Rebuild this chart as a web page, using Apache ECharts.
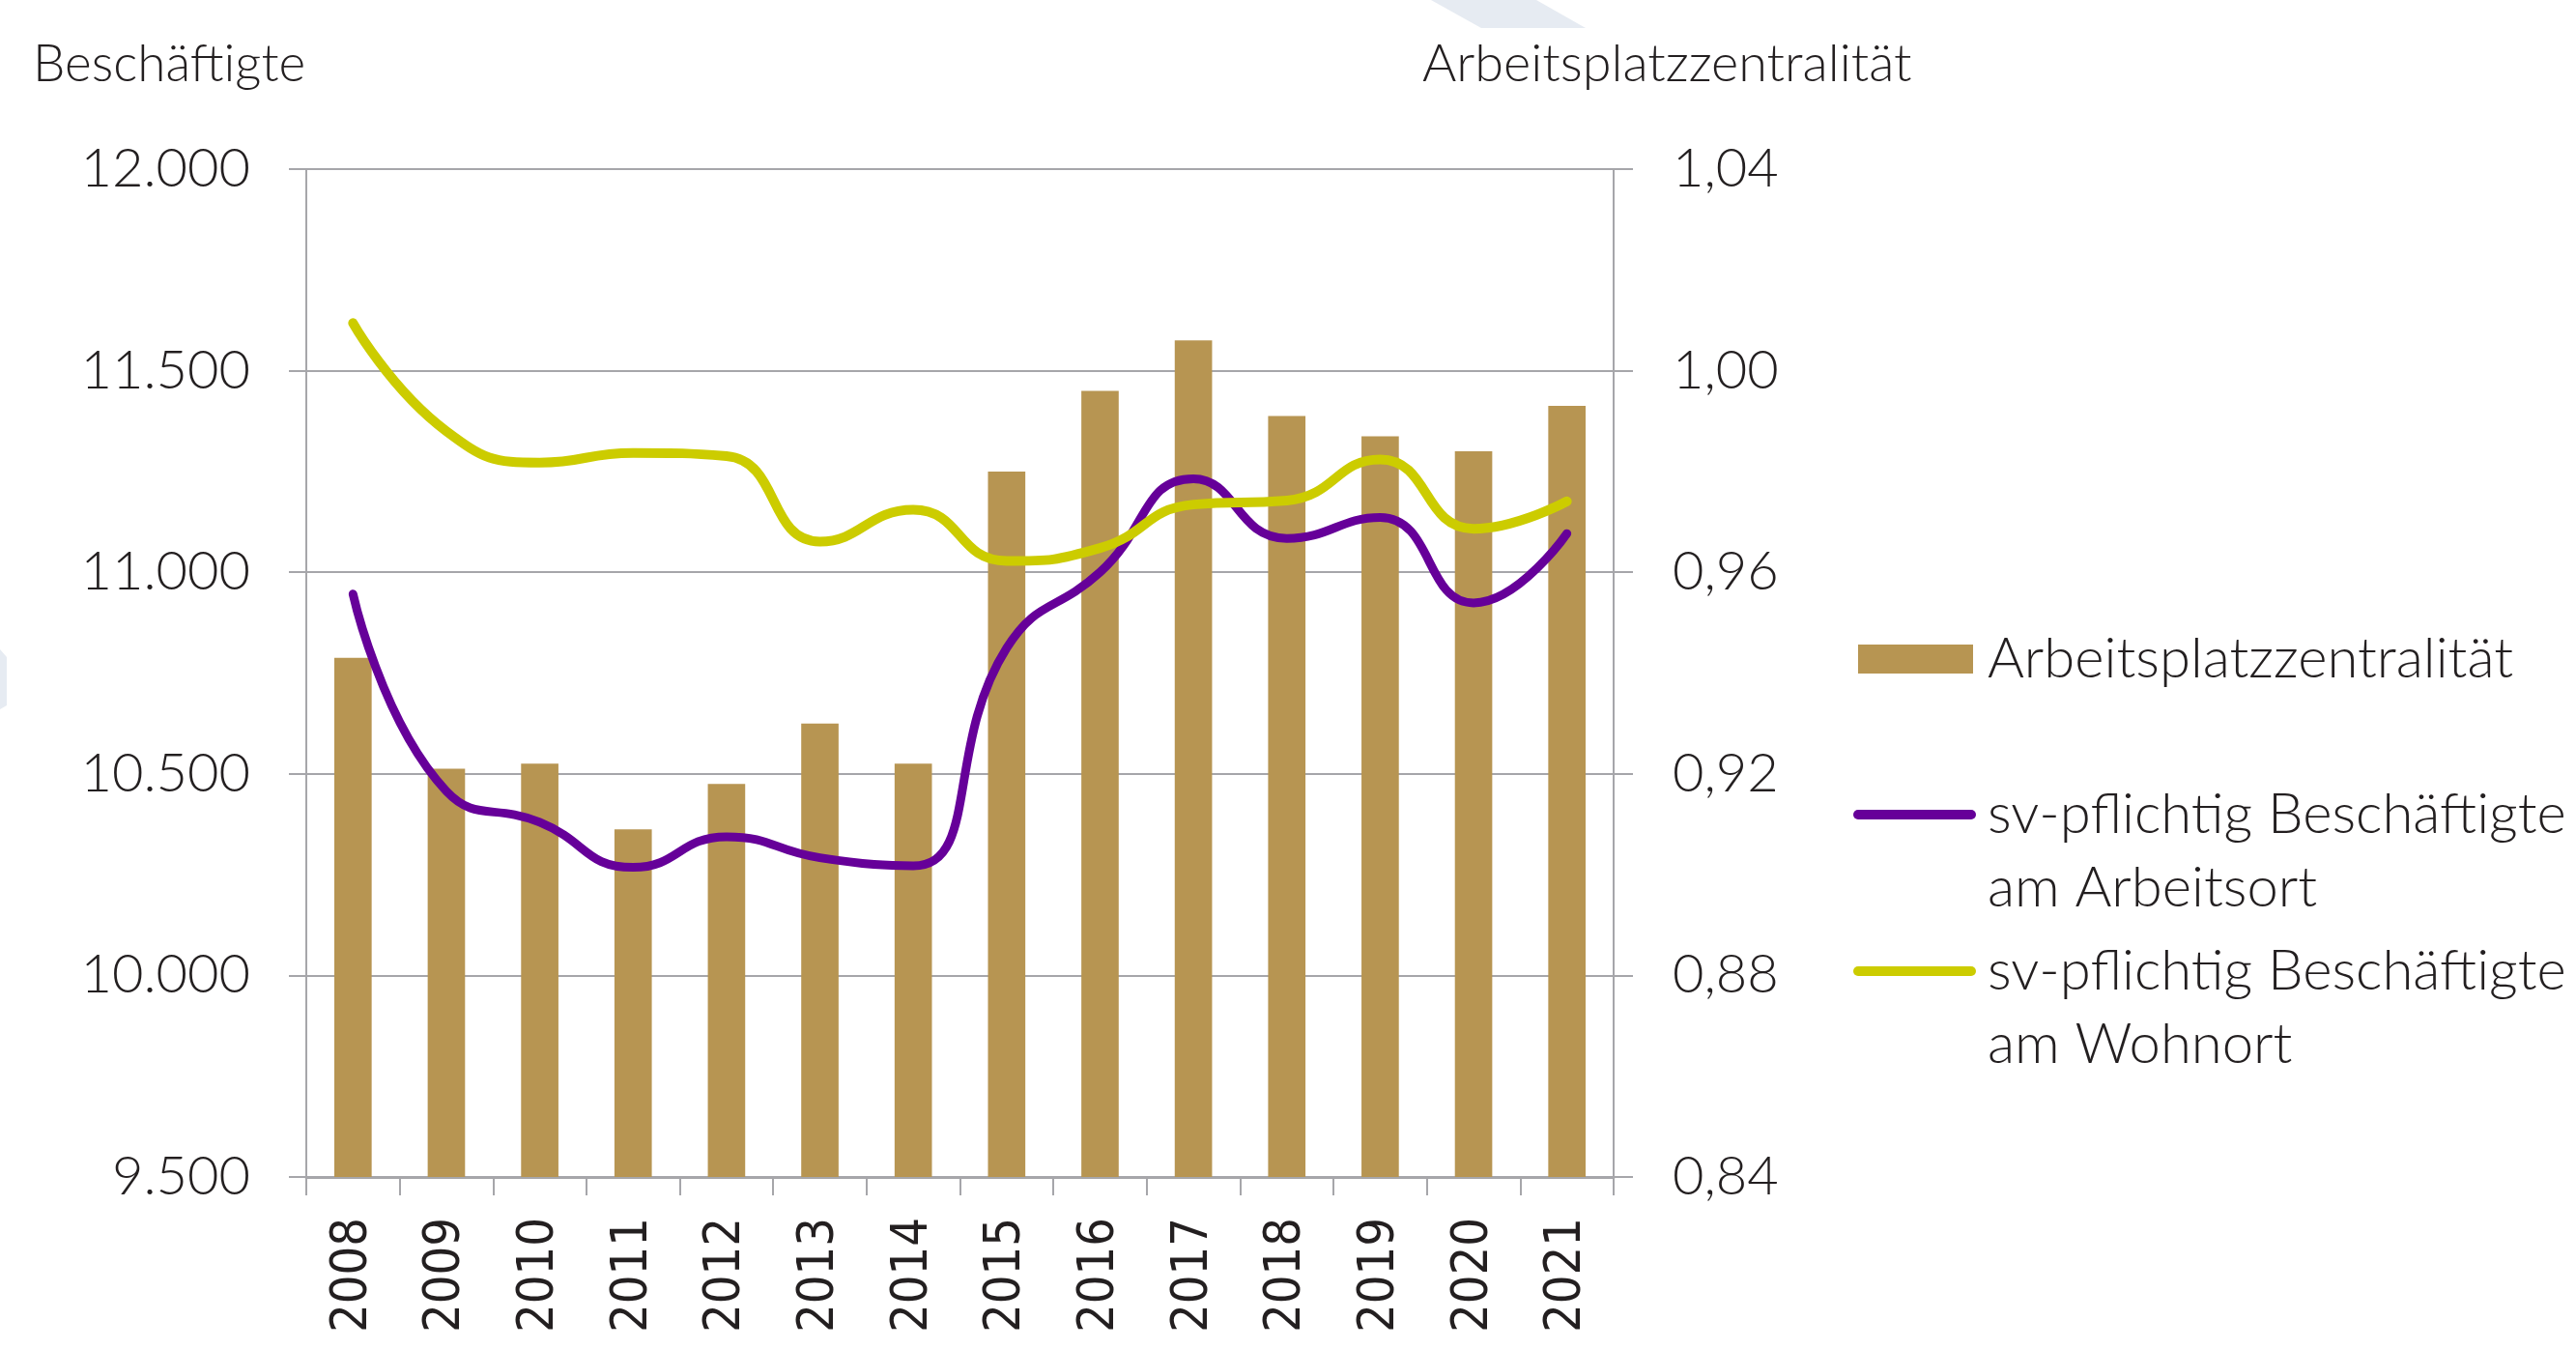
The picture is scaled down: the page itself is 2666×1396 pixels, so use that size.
<!DOCTYPE html>
<html>
<head>
<meta charset="utf-8">
<title>Beschäftigte und Arbeitsplatzzentralität</title>
<script src="https://cdn.jsdelivr.net/npm/echarts@6/dist/echarts.min.js"></script>
<style>
  html, body { margin: 0; padding: 0; background: #fff; }
  #chart { width: 2666px; height: 1396px; }
</style>
</head>
<body>
<div id="chart"></div>
<script>
// values
const years = ['2008', '2009', '2010', '2011', '2012', '2013', '2014', '2015', '2016', '2017', '2018', '2019', '2020', '2021']
const zentralitaet = [0.943, 0.921, 0.922, 0.909, 0.918, 0.930, 0.922, 0.980, 0.996, 1.006, 0.991, 0.987, 0.984, 0.993]
const arbeitsort = [10946, 10457, 10380, 10268, 10344, 10292, 10272, 10812, 11000, 11232, 11084, 11136, 10924, 11096]
const wohnort = [11618, 11350, 11272, 11296, 11288, 11076, 11155, 11028, 11060, 11168, 11178, 11280, 11108, 11176]

const leftTicks = { min: 9500, max: 12000, interval: 500 }
const rightTicks = { min: 0.84, max: 1.04, interval: 0.04 }

const barName = 'Arbeitsplatzzentralität'
const arbeitsortName = 'sv-pflichtig Beschäftigte\nam Arbeitsort'
const wohnortName = 'sv-pflichtig Beschäftigte\nam Wohnort'

const font = "Lato, 'Open Sans', sans-serif"
const textColor = '#231f20'
const gridGray = '#a6a6aa'
const barColor = '#b79552'
const purple = '#660099'
const yellow = '#cccc00'

const lineIcon = 'path://M5,0 H122 A5,5 0 0 1 122,10 H5 A5,5 0 0 1 5,0 Z'
const legendText = { fontFamily: font, fontWeight: 300, fontSize: 58, color: textColor }

function thousands(v) {
  return String(Math.round(v)).replace(/\B(?=(\d{3})+(?!\d))/g, '.')
}

// legend text is centred on the icon, an empty first line puts
// the first real line level with the icon like in the original
const firstLineOnIcon = name => '\n' + name

const chart = echarts.init(document.getElementById('chart'), null, { renderer: 'canvas' })

chart.setOption({
  animation: false,
  backgroundColor: '#fff',
  graphic: [
    // faint decoration shapes from the page behind the chart
    { type: 'polygon', shape: { points: [[1481, 0], [1590, 0], [1641, 29], [1533, 29]] }, style: { fill: '#e6ebf2' }, silent: true },
    { type: 'polygon', shape: { points: [[0, 672], [7, 680], [7, 730], [0, 734]] }, style: { fill: '#e6ebf2' }, silent: true }
  ],
  title: [
    { text: 'Beschäftigte', left: 34, top: 40, padding: 0, textStyle: { fontFamily: font, fontWeight: 300, fontSize: 53, color: textColor } },
    { text: 'Arbeitsplatzzentralität', left: 1472, top: 40, padding: 0, textStyle: { fontFamily: font, fontWeight: 300, fontSize: 54, color: textColor } }
  ],
  legend: [
    {
      data: [{ name: barName, icon: 'rect' }],
      left: 1923,
      top: 653,
      padding: 0,
      itemWidth: 119,
      itemHeight: 30,
      textStyle: { ...legendText, lineHeight: 58, padding: [0, 0, 0, 10] }
    },
    {
      data: [{ name: arbeitsortName, icon: lineIcon }],
      left: 1918,
      top: 729,
      padding: 0,
      itemWidth: 127,
      itemHeight: 10,
      formatter: firstLineOnIcon,
      textStyle: { ...legendText, lineHeight: 76, padding: [0, 0, 0, 7] }
    },
    {
      data: [{ name: wohnortName, icon: lineIcon }],
      left: 1918,
      top: 891,
      padding: 0,
      itemWidth: 127,
      itemHeight: 10,
      formatter: firstLineOnIcon,
      textStyle: { ...legendText, lineHeight: 76, padding: [0, 0, 0, 7] }
    }
  ],
  grid: {
    left: 317,
    right: 996,
    top: 175,
    bottom: 178,
    containLabel: false
  },
  xAxis: {
    type: 'category',
    data: years,
    axisLine: { show: true, lineStyle: { color: gridGray, width: 3 } },
    axisTick: { show: true, length: 19, lineStyle: { color: gridGray, width: 2 } },
    axisLabel: {
      rotate: 90,
      margin: 42,
      fontFamily: "'DejaVu Sans Condensed', 'DejaVu Sans', sans-serif",
      fontSize: 52,
      color: textColor
    },
    splitLine: { show: false }
  },
  yAxis: [
    {
      type: 'value',
      position: 'left',
      min: leftTicks.min,
      max: leftTicks.max,
      interval: leftTicks.interval,
      axisLine: { show: true, lineStyle: { color: gridGray, width: 2 } },
      axisTick: { show: true, length: 18, lineStyle: { color: gridGray, width: 2 } },
      axisLabel: {
        margin: 58,
        fontFamily: font,
        fontWeight: 300,
        fontSize: 56,
        color: textColor,
        formatter: thousands
      },
      splitLine: { show: true, lineStyle: { color: gridGray, width: 2 } }
    },
    {
      type: 'value',
      position: 'right',
      min: rightTicks.min,
      max: rightTicks.max,
      interval: rightTicks.interval,
      axisLine: { show: true, lineStyle: { color: gridGray, width: 2 } },
      axisTick: { show: true, length: 20, lineStyle: { color: gridGray, width: 2 } },
      axisLabel: {
        margin: 61,
        fontFamily: font,
        fontWeight: 300,
        fontSize: 56,
        color: textColor,
        formatter: v => v.toFixed(2).replace('.', ',')
      },
      splitLine: { show: false }
    }
  ],
  series: [
    {
      name: barName,
      type: 'bar',
      yAxisIndex: 1,
      barWidth: '40%',
      data: zentralitaet,
      itemStyle: { color: barColor }
    },
    {
      name: arbeitsortName,
      type: 'line',
      yAxisIndex: 0,
      data: arbeitsort,
      smooth: 0.5,
      symbol: 'none',
      itemStyle: { color: purple },
      lineStyle: { color: purple, width: 9, cap: 'round' }
    },
    {
      name: wohnortName,
      type: 'line',
      yAxisIndex: 0,
      data: wohnort,
      smooth: 0.5,
      symbol: 'none',
      itemStyle: { color: yellow },
      lineStyle: { color: yellow, width: 10, cap: 'round' }
    }
  ]
})
</script>
</body>
</html>
